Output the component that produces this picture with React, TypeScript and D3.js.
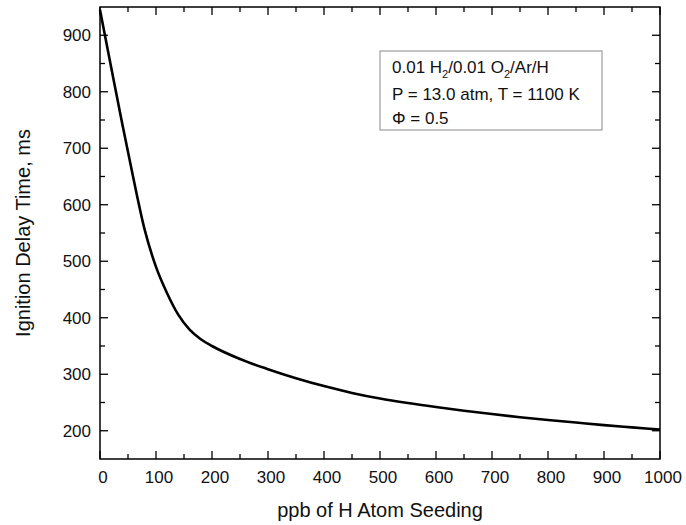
import React from 'react';
import * as d3 from 'd3';

// Data
const seedingPpb = [0, 20, 40, 60, 80, 100, 120, 140, 160, 180, 200, 250, 300, 350, 400, 450, 500, 550, 600, 650, 700, 750, 800, 850, 900, 950, 1000];
const delayMs = [945, 843, 742, 645, 555, 490, 443, 405, 379, 362, 350, 327, 309, 293, 279, 267, 257, 249, 242, 235.5, 229.5, 224, 219, 214.5, 210, 206, 202];

const xTickValues = [0, 100, 200, 300, 400, 500, 600, 700, 800, 900, 1000];
const xMinorValues = [50, 150, 250, 350, 450, 550, 650, 750, 850, 950];
const yTickValues = [200, 300, 400, 500, 600, 700, 800, 900];
const yMinorValues = [250, 350, 450, 550, 650, 750, 850];

const xTitle = 'ppb of H Atom Seeding';
const yTitle = 'Ignition Delay Time, ms';

const FONT = 'Liberation Sans, Arial, Helvetica, sans-serif';

export default function App() {
  const W = 686;
  const H = 525;
  const left = 100, right = 660, top = 7, bottom = 459;
  const x = d3.scaleLinear().domain([0, 1000]).range([left, right]);
  const y = d3.scaleLinear().domain([150, 950]).range([bottom, top]);
  const majorLen = 8;
  const minorLen = 5;

  const pts: [number, number][] = seedingPpb.map((v, i) => [v, delayMs[i]]);
  const line = d3
    .line<[number, number]>()
    .x((d) => x(d[0]))
    .y((d) => y(d[1]))
    .curve(d3.curveMonotoneX);

  const tickStyle = { stroke: '#000', strokeWidth: 1.3 };

  return (
    <div style={{ position: 'absolute', left: 0, top: 0 }}>
      <svg width={W} height={H} style={{ display: 'block', background: '#fff' }}>
        <rect x={0} y={0} width={W} height={H} fill="#fff" />
        {/* x ticks bottom & top */}
        {xTickValues.map((v) => (
          <g key={'xt' + v}>
            <line x1={x(v)} x2={x(v)} y1={bottom} y2={bottom - majorLen} {...tickStyle} />
            <line x1={x(v)} x2={x(v)} y1={top} y2={top + majorLen} {...tickStyle} />
            <text x={x(v) + 3} y={483} textAnchor="middle" fontFamily={FONT} fontSize={17} fill="#111">
              {v}
            </text>
          </g>
        ))}
        {xMinorValues.map((v) => (
          <g key={'xm' + v}>
            <line x1={x(v)} x2={x(v)} y1={bottom} y2={bottom - minorLen} {...tickStyle} />
            <line x1={x(v)} x2={x(v)} y1={top} y2={top + minorLen} {...tickStyle} />
          </g>
        ))}
        {/* y ticks left & right */}
        {yTickValues.map((v) => (
          <g key={'yt' + v}>
            <line x1={left} x2={left + majorLen} y1={y(v)} y2={y(v)} {...tickStyle} />
            <line x1={right} x2={right - majorLen} y1={y(v)} y2={y(v)} {...tickStyle} />
            <text x={91} y={y(v) + 6} textAnchor="end" fontFamily={FONT} fontSize={17} fill="#111">
              {v}
            </text>
          </g>
        ))}
        {yMinorValues.map((v) => (
          <g key={'ym' + v}>
            <line x1={left} x2={left + minorLen} y1={y(v)} y2={y(v)} {...tickStyle} />
            <line x1={right} x2={right - minorLen} y1={y(v)} y2={y(v)} {...tickStyle} />
          </g>
        ))}
        {/* curve */}
        <path d={line(pts) || ''} fill="none" stroke="#000" strokeWidth={2.6} strokeLinejoin="round" />
        {/* frame */}
        <rect x={left} y={top} width={right - left} height={bottom - top} fill="none" stroke="#000" strokeWidth={1.5} />
        {/* legend box */}
        <rect x={380} y={51} width={222} height={79} fill="#fff" stroke="#8a8a8a" strokeWidth={1} />
        <text x={392} y={73} fontFamily={FONT} fontSize={17} fill="#111">
          0.01 H
          <tspan fontSize={11} dy={5}>2</tspan>
          <tspan dy={-5}>/0.01 O</tspan>
          <tspan fontSize={11} dy={5}>2</tspan>
          <tspan dy={-5}>/Ar/H</tspan>
        </text>
        <text x={392} y={100} fontFamily={FONT} fontSize={17} fill="#111">
          P = 13.0 atm, T = 1100 K
        </text>
        <text x={392} y={124} fontFamily={FONT} fontSize={17} fill="#111">
          Φ = 0.5
        </text>
        {/* axis titles */}
        <text x={(left + right) / 2} y={517} textAnchor="middle" fontFamily={FONT} fontSize={20} fill="#111">
          {xTitle}
        </text>
        <text
          transform={`translate(30, ${(top + bottom) / 2}) rotate(-90)`}
          textAnchor="middle"
          fontFamily={FONT}
          fontSize={20}
          fill="#111"
        >
          {yTitle}
        </text>
      </svg>
    </div>
  );
}
